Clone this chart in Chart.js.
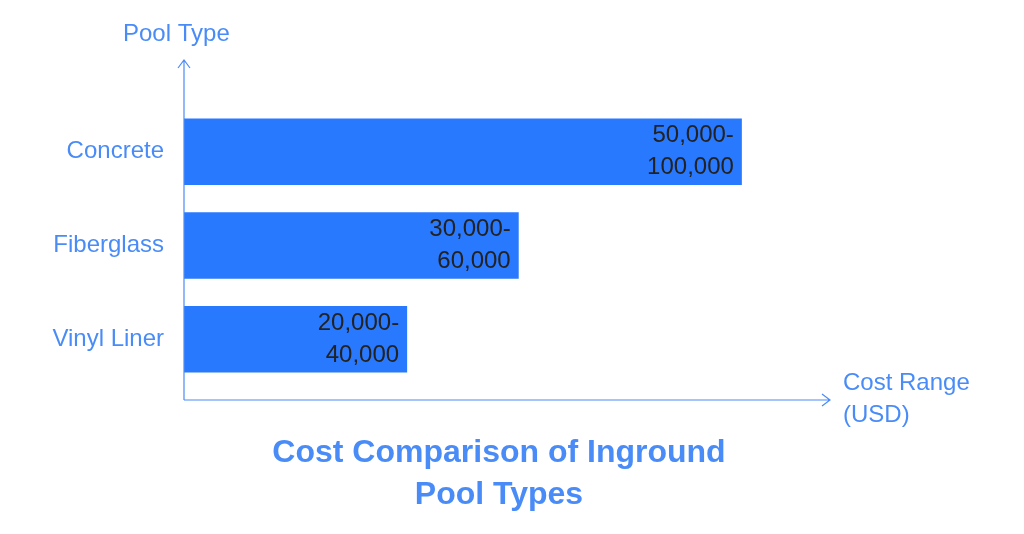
<!DOCTYPE html>
<html>
<head>
<meta charset="utf-8">
<script src="https://cdn.jsdelivr.net/npm/chart.js@4"></script>
<style>
  html, body { margin: 0; padding: 0; background: #fff; }
  #wrap { width: 1024px; height: 534px; position: relative; }
</style>
</head>
<body>
<div id="wrap"><canvas id="c"></canvas></div>
<script>
// Data
const poolTypes = ["Concrete", "Fiberglass", "Vinyl Liner"];
const maxCost = [100000, 60000, 40000];
const costLabels = [["50,000-", "100,000"], ["30,000-", "60,000"], ["20,000-", "40,000"]];
const titleLines = ["Cost Comparison of Inground", "Pool Types"];

const BLUE = "#2979ff";
const TEXT_BLUE = "#4a8cf7";
const FONT = "'Liberation Sans', Arial, sans-serif";

// Axes, labels and title drawn by hand
const decor = {
  id: "decor",
  afterDatasetsDraw(chart) {
    const ctx = chart.ctx;
    const area = chart.chartArea;
    const x0 = area.left, y0 = 400, yTop = 60, xEnd = area.right;
    ctx.save();
    ctx.strokeStyle = TEXT_BLUE;
    ctx.lineWidth = 1.2;
    ctx.beginPath();
    ctx.moveTo(x0, y0); ctx.lineTo(x0, yTop);
    ctx.moveTo(x0 - 6, yTop + 8); ctx.lineTo(x0, yTop); ctx.lineTo(x0 + 6, yTop + 8);
    ctx.moveTo(x0, y0); ctx.lineTo(xEnd, y0);
    ctx.moveTo(xEnd - 8, y0 - 6); ctx.lineTo(xEnd, y0); ctx.lineTo(xEnd - 8, y0 + 6);
    ctx.stroke();

    ctx.fillStyle = TEXT_BLUE;
    ctx.font = "24px " + FONT;
    ctx.textBaseline = "middle";
    ctx.textAlign = "left";
    ctx.fillText("Pool Type", 123, 34);
    ctx.fillText("Cost Range", 843, 383);
    ctx.fillText("(USD)", 843, 415);

    const meta = chart.getDatasetMeta(0);
    meta.data.forEach((bar, i) => {
      ctx.fillStyle = TEXT_BLUE;
      ctx.textAlign = "right";
      ctx.fillText(poolTypes[i], 164, bar.y);
      ctx.fillStyle = "#222";
      ctx.fillText(costLabels[i][0], bar.x - 8, bar.y - 16);
      ctx.fillText(costLabels[i][1], bar.x - 8, bar.y + 16);
    });

    ctx.fillStyle = TEXT_BLUE;
    ctx.font = "bold 32px " + FONT;
    ctx.textAlign = "center";
    ctx.fillText(titleLines[0], 499, 453);
    ctx.fillText(titleLines[1], 499, 495);
    ctx.restore();
  }
};

new Chart(document.getElementById("c"), {
  type: "bar",
  data: {
    labels: poolTypes,
    datasets: [{ data: maxCost, backgroundColor: BLUE, barPercentage: 0.71, categoryPercentage: 1 }]
  },
  options: {
    indexAxis: "y",
    responsive: true,
    maintainAspectRatio: false,
    animation: false,
    layout: { padding: { left: 184, right: 194, top: 105, bottom: 148 } },
    scales: {
      x: { display: false, min: 0, max: 115800 },
      y: { display: false }
    },
    plugins: { legend: { display: false }, tooltip: { enabled: false } }
  },
  plugins: [decor]
});
</script>
</body>
</html>
